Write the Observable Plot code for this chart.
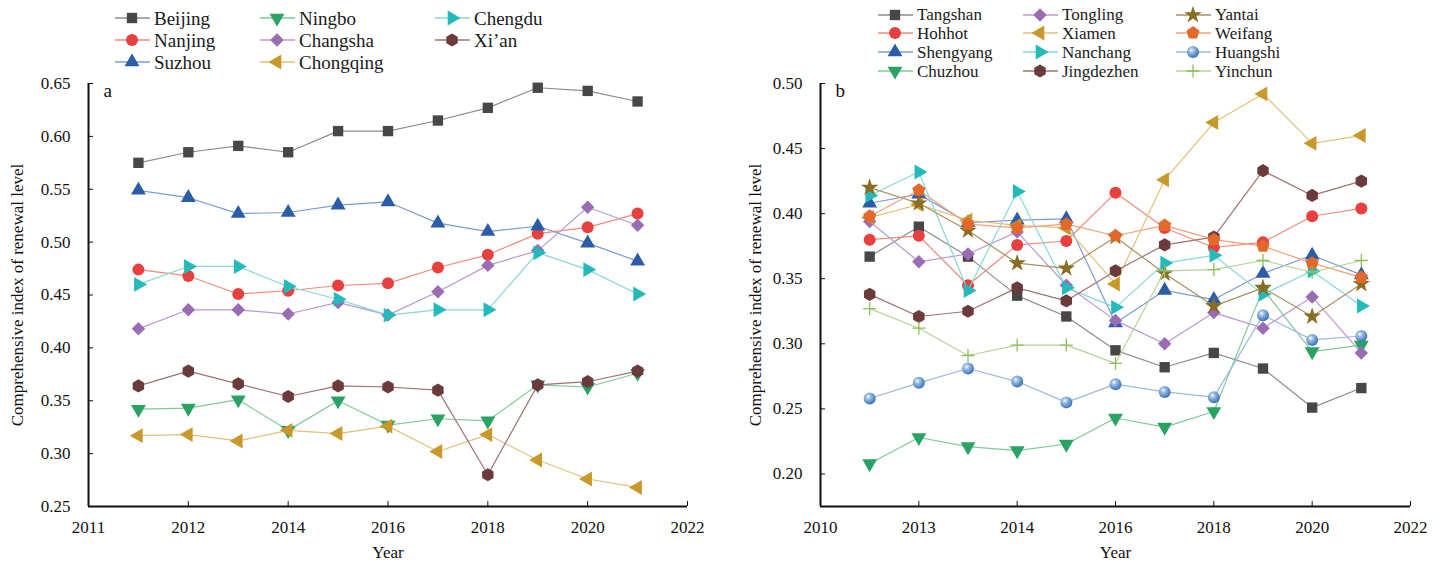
<!DOCTYPE html>
<html><head><meta charset="utf-8">
<script src="https://cdn.jsdelivr.net/npm/d3@7"></script>
<script src="https://cdn.jsdelivr.net/npm/@observablehq/plot@0.6"></script>
<style>
body{margin:0;background:#fff;font-family:"Liberation Serif","DejaVu Serif",serif;}
#wrap{display:flex;width:1442px;height:566px;}
.panel{position:relative;}
.legend{position:relative;height:70px;}
.item{position:absolute;display:flex;align-items:center;line-height:1;white-space:nowrap;color:#1a1a1a;}
.item span{margin-left:2px;}
svg.chart{overflow:visible;display:block;}
</style></head>
<body><div id="wrap"><div class="panel" id="pa" style="width:720px"></div><div class="panel" id="pb" style="width:722px"></div></div>
<script>
// ---------- data ----------
const years = [2011, 2012, 2013, 2014, 2015, 2016, 2017, 2018, 2019, 2020, 2021];

// panel a (legend column-major order)
const namesA = ["Beijing", "Nanjing", "Suzhou", "Ningbo", "Changsha", "Chongqing", "Chengdu", "Xi’an"];
const beijing   = [0.575, 0.585, 0.591, 0.585, 0.605, 0.605, 0.615, 0.627, 0.646, 0.643, 0.633];
const nanjing   = [0.474, 0.468, 0.451, 0.454, 0.459, 0.461, 0.476, 0.488, 0.508, 0.514, 0.527];
const suzhou    = [0.549, 0.542, 0.527, 0.528, 0.535, 0.538, 0.518, 0.510, 0.515, 0.499, 0.482];
const ningbo    = [0.342, 0.343, 0.351, 0.322, 0.350, 0.327, 0.333, 0.331, 0.365, 0.363, 0.376];
const changsha  = [0.418, 0.436, 0.436, 0.432, 0.443, 0.431, 0.453, 0.478, 0.492, 0.533, 0.516];
const chongqing = [0.317, 0.318, 0.312, 0.322, 0.319, 0.326, 0.302, 0.318, 0.294, 0.276, 0.268];
const chengdu   = [0.460, 0.477, 0.477, 0.458, 0.446, 0.431, 0.436, 0.436, 0.490, 0.474, 0.451];
const xian      = [0.364, 0.378, 0.366, 0.354, 0.364, 0.363, 0.360, 0.280, 0.365, 0.368, 0.378];
const valuesA = [beijing, nanjing, suzhou, ningbo, changsha, chongqing, chengdu, xian];

// panel b
const namesB = ["Tangshan", "Hohhot", "Shengyang", "Chuzhou", "Tongling", "Xiamen", "Nanchang", "Jingdezhen", "Yantai", "Weifang", "Huangshi", "Yinchun"];
const tangshan   = [0.367, 0.390, 0.367, 0.337, 0.321, 0.295, 0.282, 0.293, 0.281, 0.251, 0.266];
const hohhot     = [0.380, 0.383, 0.345, 0.376, 0.379, 0.416, 0.389, 0.374, 0.378, 0.398, 0.404];
const shengyang  = [0.408, 0.415, 0.393, 0.395, 0.396, 0.316, 0.341, 0.334, 0.354, 0.368, 0.353];
const chuzhou    = [0.208, 0.228, 0.221, 0.218, 0.223, 0.243, 0.236, 0.248, 0.342, 0.294, 0.299];
const tongling   = [0.394, 0.363, 0.369, 0.386, 0.345, 0.318, 0.300, 0.324, 0.312, 0.336, 0.293];
const xiamen     = [0.397, 0.407, 0.395, 0.391, 0.389, 0.346, 0.426, 0.470, 0.492, 0.454, 0.460];
const nanchang   = [0.414, 0.432, 0.341, 0.417, 0.343, 0.328, 0.362, 0.368, 0.338, 0.356, 0.329];
const jingdezhen = [0.338, 0.321, 0.325, 0.343, 0.333, 0.356, 0.376, 0.382, 0.433, 0.414, 0.425];
const yantai     = [0.420, 0.408, 0.387, 0.362, 0.358, 0.382, 0.354, 0.329, 0.343, 0.321, 0.346];
const weifang    = [0.398, 0.418, 0.392, 0.389, 0.392, 0.383, 0.391, 0.380, 0.375, 0.362, 0.351];
const huangshi   = [0.258, 0.270, 0.281, 0.271, 0.255, 0.269, 0.263, 0.259, 0.322, 0.303, 0.306];
const yinchun    = [0.327, 0.312, 0.291, 0.299, 0.299, 0.285, 0.356, 0.357, 0.364, 0.355, 0.364];
const valuesB = [tangshan, hohhot, shengyang, chuzhou, tongling, xiamen, nanchang, jingdezhen, yantai, weifang, huangshi, yinchun];

// axes
const xTicks = [2010, 2012, 2014, 2016, 2018, 2020, 2022];
const xTickLabelsA = ["2011", "2012", "2014", "2016", "2018", "2020", "2022"];
const xTickLabelsB = ["2010", "2013", "2014", "2016", "2018", "2020", "2022"];
const yTicksA = [0.25, 0.30, 0.35, 0.40, 0.45, 0.50, 0.55, 0.60, 0.65];
const yTicksB = [0.20, 0.25, 0.30, 0.35, 0.40, 0.45, 0.50];
const yLabel = "Comprehensive index of renewal level";
const xLabel = "Year";

// ---------- styles ----------
function tri(angle) {
  return {draw(c, s) {
    const a = Math.sqrt(4 * s * 0.85 / Math.sqrt(3)), R = a / Math.sqrt(3);
    [-90, 30, 150].forEach((t, i) => {
      const r = (t + angle) * Math.PI / 180, x = R * Math.cos(r), y = R * Math.sin(r);
      i ? c.lineTo(x, y) : c.moveTo(x, y);
    });
    c.closePath();
  }};
}
function poly(n, k) {
  return {draw(c, s) {
    const R = Math.sqrt(2 * s * k / (n * Math.sin(2 * Math.PI / n)));
    for (let i = 0; i < n; i++) {
      const r = -Math.PI / 2 + i * 2 * Math.PI / n, x = R * Math.cos(r), y = R * Math.sin(r);
      i ? c.lineTo(x, y) : c.moveTo(x, y);
    }
    c.closePath();
  }};
}
const SYM = {
  square: {draw(c, s) { const h = Math.sqrt(s * 0.95) / 2; c.moveTo(-h, -h); c.lineTo(h, -h); c.lineTo(h, h); c.lineTo(-h, h); c.closePath(); }},
  circle: {draw(c, s) { const r = Math.sqrt(s / Math.PI); c.moveTo(r, 0); c.arc(0, 0, r, 0, 2 * Math.PI); }},
  up: tri(0), down: tri(180), right: tri(90), left: tri(270),
  diamond: poly(4, 0.8),
  hexagon: poly(6, 1),
  pentagon: poly(5, 1),
  star: {draw(c, s) { d3.symbolStar.draw(c, s * 0.85); }},
  plus: {draw(c, s) { const r = Math.sqrt(s / Math.PI) + 0.5; c.moveTo(-r, 0); c.lineTo(r, 0); c.moveTo(0, -r); c.lineTo(0, r); }}
};
const styleA = [
  {sym: "square", color: "#474747", line: "#8c8c8c"},
  {sym: "circle", color: "#e8403f", line: "#f28a7a"},
  {sym: "up", color: "#2b5ca8", line: "#7b9bd6"},
  {sym: "down", color: "#2aa263", line: "#7dcb95"},
  {sym: "diamond", color: "#9a6db3", line: "#bb98d2"},
  {sym: "left", color: "#c8982b", line: "#e2c07a"},
  {sym: "right", color: "#24b9ba", line: "#86d8d8"},
  {sym: "hexagon", color: "#6b3a3b", line: "#a07273"}
];
const styleB = styleA.concat([
  {sym: "star", color: "#8a6d25", line: "#a89060"},
  {sym: "pentagon", color: "#e2692b", line: "#f0a07a"},
  {sym: "circle", color: "#5b94cd", line: "#9ab9e0", sphere: true},
  {sym: "plus", color: "#8cbf5b", line: "#b5d496", stroke: true}
]);

const gradDef = id => `<radialGradient id="${id}" cx="0.38" cy="0.35" r="0.65"><stop offset="0" stop-color="#ffffff"/><stop offset="0.3" stop-color="#9cc0e6"/><stop offset="1" stop-color="#3c72b4"/></radialGradient>`;

function legend(panel, names, styles, perCol, colX, rowY0, rowStep, fontSize) {
  const lg = d3.select(panel).append("div").attr("class", "legend");
  names.forEach((n, i) => {
    const st = styles[i], col = Math.floor(i / perCol), row = i % perCol;
    const it = lg.append("div").attr("class", "item").style("font-size", fontSize + "px")
      .style("left", (colX[col] - 20) + "px").style("top", (rowY0 + row * rowStep - 10) + "px");
    const sv = it.append("svg").attr("width", 40).attr("height", 20);
    const gid = "lg" + panel.id + i;
    if (st.sphere) sv.append("defs").html(gradDef(gid));
    sv.append("line").attr("x1", 3).attr("x2", 38).attr("y1", 10).attr("y2", 10).attr("stroke", st.line).attr("stroke-width", 1.3);
    const p = d3.path(); SYM[st.sym].draw(p, Math.PI * 36);
    sv.append("path").attr("transform", "translate(20,10)").attr("d", p.toString())
      .attr("fill", st.stroke ? "none" : st.sphere ? `url(#${gid})` : st.color)
      .attr("stroke", st.stroke ? st.color : "none").attr("stroke-width", 1.3);
    it.append("span").text(n);
  });
}

function chart(panel, names, values, styles, opt) {
  const marks = [
    Plot.ruleX([opt.xDomain[0]], {stroke: "#111", strokeWidth: 2}),
    Plot.ruleY([opt.yDomain[0]], {stroke: "#111", strokeWidth: 2}),
    Plot.axisY({ticks: opt.yTicks, tickSize: -5, tickPadding: 23, tickFormat: d3.format(".2f"),
      label: yLabel, labelAnchor: "center", labelOffset: opt.labelOffset, labelArrow: "none", fontSize: 17}),
    Plot.axisX({ticks: xTicks, tickSize: -5, tickPadding: 19, tickFormat: d => opt.xLabels[xTicks.indexOf(d)],
      label: xLabel, labelAnchor: "center", labelOffset: 51, labelArrow: "none", fontSize: 17}),
    Plot.text([opt.letter], {frameAnchor: "top-left", dx: 15, dy: 0, fontSize: 19, textAnchor: "start", lineAnchor: "top"})
  ];
  names.forEach((n, i) => {
    const st = styles[i];
    const rows = years.map((yr, j) => ({year: yr, value: values[i][j]}));
    marks.push(Plot.line(rows, {x: "year", y: "value", stroke: st.line, strokeWidth: 1.2}));
    marks.push(Plot.dot(rows, {x: "year", y: "value", symbol: SYM[st.sym], r: 6,
      fill: st.stroke ? "none" : st.color, stroke: st.stroke ? st.color : "none", strokeWidth: 1.3,
      className: st.sphere ? "sphere-dots" : undefined}));
  });
  const svg = Plot.plot({
    width: opt.width, height: 496,
    marginLeft: opt.marginLeft, marginRight: opt.marginRight, marginTop: 13, marginBottom: 60,
    x: {domain: opt.xDomain}, y: {domain: opt.yDomain},
    style: {fontFamily: "'Liberation Serif', 'DejaVu Serif', serif", fontSize: "17px", color: "#111", background: "transparent"},
    marks
  });
  svg.classList.add("chart");
  const s = d3.select(svg);
  if (!s.select(".sphere-dots").empty()) {
    const gid = "sph" + panel.id;
    s.insert("defs", ":first-child").html(gradDef(gid));
    s.select(".sphere-dots").attr("fill", `url(#${gid})`).selectAll("path").attr("fill", null);
  }
  panel.appendChild(svg);
}

const pa = document.getElementById("pa"), pb = document.getElementById("pb");
legend(pa, namesA, styleA, 3, [132, 277, 452], 18, 22, 19);
legend(pb, namesB, styleB, 4, [175, 320, 473], 14.5, 18.9, 17);
chart(pa, namesA, valuesA, styleA, {width: 720, marginLeft: 88, marginRight: 33, xDomain: [2010, 2022], yDomain: [0.25, 0.65], yTicks: yTicksA, xLabels: xTickLabelsA, labelOffset: 78, letter: "a"});
chart(pb, namesB, valuesB, styleB, {width: 722, marginLeft: 100, marginRight: 32, xDomain: [2010, 2022], yDomain: [0.175, 0.50], yTicks: yTicksB, xLabels: xTickLabelsB, labelOffset: 72, letter: "b"});
</script>
</body></html>
